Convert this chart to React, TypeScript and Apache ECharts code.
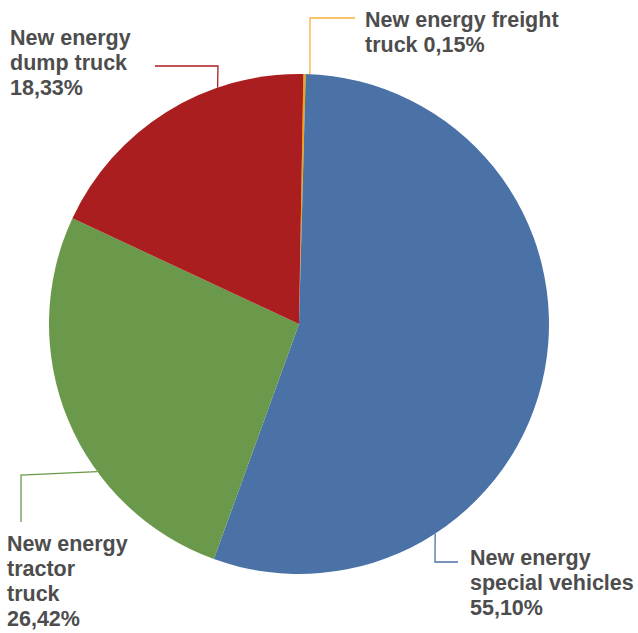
import React, { useEffect, useRef } from "react";
import * as echarts from "echarts";

// Data (clockwise from 12 o'clock)
const categories = [
  "New energy freight truck",
  "New energy special vehicles",
  "New energy tractor truck",
  "New energy dump truck",
];
const shares = [0.15, 55.1, 26.42, 18.33];

// Styling / layout
const sliceColors = ["#F7A600", "#4A72A6", "#6A994B", "#AB1E1F"];
const leaderColors = ["#F5B43C", "#4A72A6", "#6A994B", "#AB1E1F"];
const CENTER = [299, 324];
const RADIUS = 250;
// words per label line
const labelWraps = [
  [3, 2],
  [2, 2, 1],
  [2, 1, 1, 1],
  [2, 2, 1],
];
// label box: top-left x, y
const labelBoxes = [
  { x: 365, y: 7 },
  { x: 470, y: 545 },
  { x: 7, y: 531 },
  { x: 10, y: 25 },
];
// leader anchor angle on rim (deg clockwise from top) and elbow / end points
const leaderAnchors = [2.5, 147, 233.8, 341];
const leaderRest = [
  [[310, 18], [355, 18]],
  [[435, 562], [458, 562]],
  [[21, 475], [21, 522]],
  [[218, 66], [155, 66]],
];

function wrapLabel(text: string, counts: number[]) {
  const words = text.split(" ");
  const lines: string[] = [];
  let k = 0;
  counts.forEach((c) => {
    lines.push(words.slice(k, k + c).join(" "));
    k += c;
  });
  return lines.join("\n");
}

export default function App() {
  const ref = useRef<HTMLDivElement>(null);
  useEffect(() => {
    if (!ref.current) return;
    const chart = echarts.init(ref.current, null, { renderer: "svg" });
    const data = categories.map((name, i) => ({
      name,
      value: shares[i],
      itemStyle: { color: sliceColors[i] },
      labelLine: { lineStyle: { color: leaderColors[i], width: 1.3 } },
    }));
    chart.setOption({
      animation: false,
      backgroundColor: "#ffffff",
      series: [
        {
          type: "pie",
          center: CENTER,
          radius: RADIUS,
          startAngle: 89,
          clockwise: true,
          avoidLabelOverlap: false,
          itemStyle: { borderWidth: 0 },
          label: {
            show: true,
            position: "outside",
            formatter: (p: any) =>
              wrapLabel(
                p.name + " " + Number(p.value).toFixed(2).replace(".", ",") + "%",
                labelWraps[p.dataIndex]
              ),
            fontFamily: "Liberation Sans, Arial, sans-serif",
            fontWeight: "bold",
            fontSize: 21.5,
            lineHeight: 25,
            color: "#4D4D4D",
            align: "left",
          },
          labelLine: { show: true, length: 10, length2: 10, smooth: false },
          labelLayout: (params: any) => {
            const i = params.dataIndex;
            const a = (leaderAnchors[i] * Math.PI) / 180;
            const start = [
              CENTER[0] + RADIUS * Math.sin(a),
              CENTER[1] - RADIUS * Math.cos(a),
            ];
            return {
              x: labelBoxes[i].x,
              y: labelBoxes[i].y,
              align: "left",
              verticalAlign: "top",
              labelLinePoints: [start, leaderRest[i][0], leaderRest[i][1]],
            };
          },
          data,
        },
      ],
    });
    return () => chart.dispose();
  }, []);
  return (
    <div
      ref={ref}
      style={{ position: "absolute", left: 0, top: 0, width: 638, height: 633 }}
    />
  );
}
